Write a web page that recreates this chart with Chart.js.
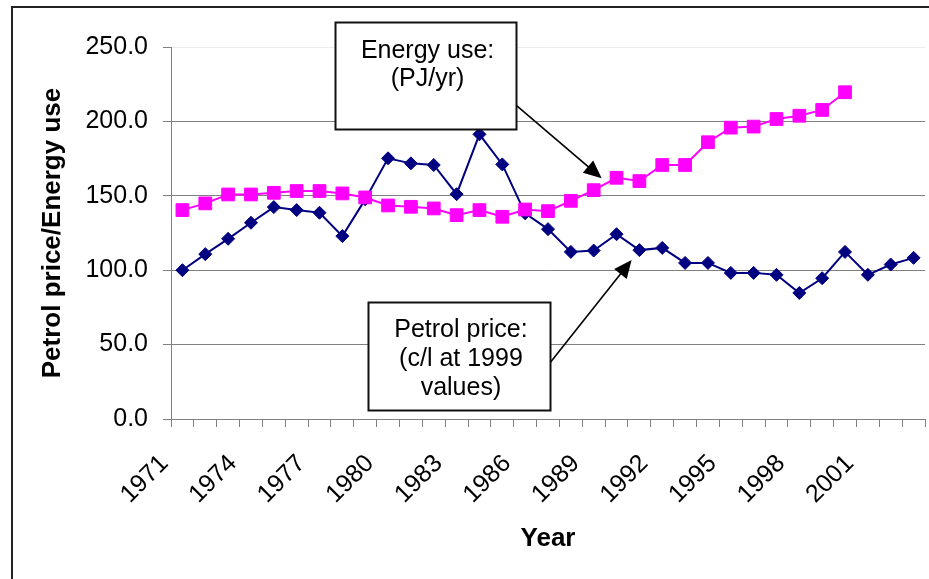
<!DOCTYPE html>
<html>
<head>
<meta charset="utf-8">
<title>Petrol price and energy use</title>
<script src="https://cdn.jsdelivr.net/npm/chart.js@4/dist/chart.umd.min.js"></script>
<style>
    html, body { margin: 0; padding: 0; background: #fff; }
    #wrap { width: 929px; height: 579px; position: relative; }
</style>
</head>
<body>
<div id="wrap"><canvas id="canvas-1"></canvas></div>
<script>
'use strict';

// years on the category axis
var years = [];
for (var y = 1971; y <= 2003; y++) {
    years.push(String(y));
}

// petrol price, c/l at 1999 values (1971-2003)
var petrolPrice = [100.0, 110.8, 121.1, 131.9, 142.4, 140.4, 138.6, 122.9, 147.6, 175.2,
    171.8, 170.7, 151.1, 191.3, 171.1, 138.2, 127.6, 112.3, 113.2, 124.2,
    113.5, 115.0, 104.9, 104.9, 98.2, 98.2, 96.9, 84.7, 94.6, 112.3,
    96.9, 103.8, 108.3];

// energy use, PJ/yr (1971-2000)
var energyUse = [140.4, 144.9, 150.9, 150.9, 152.0, 153.2, 153.2, 151.6, 148.9, 143.5,
    142.6, 141.5, 137.0, 140.4, 135.9, 140.8, 139.7, 146.6, 153.8, 162.1,
    159.9, 170.7, 170.7, 186.0, 195.8, 196.5, 201.6, 203.8, 207.7, 219.6];

// y ticks
var yMin = 0, yMax = 250, yStep = 50;

// callout boxes, in data units (x = category index, y = value)
var callouts = [
    {
        lines: ['Energy use:', '(PJ/yr)'],
        box: [6.66, 266.6, 14.6, 194.7],
        textX: 10.73, textY: [247.3, 228.5],
        arrow: [14.6, 211.0, 18.35, 161.8]
    },
    {
        lines: ['Petrol price:', '(c/l at 1999', 'values)'],
        box: [8.13, 78.8, 16.09, 6.5],
        textX: 12.19, textY: [59.8, 40.3, 20.8],
        arrow: [16.09, 37.8, 19.66, 106.9]
    }
];

var FONT = '"Liberation Sans", Arial, Helvetica, sans-serif';

// draws the two text boxes with arrows and the outer frame
var calloutPlugin = {
    id: 'callouts',
    afterDraw: function (chart) {
        var ctx = chart.ctx;
        var xs = chart.scales.x, ys = chart.scales.y;
        var px = function (i) { return xs.getPixelForValue(i); };
        var py = function (v) { return ys.getPixelForValue(v); };

        ctx.save();
        callouts.forEach(function (c) {
            // arrow line
            var x1 = px(c.arrow[0]), y1 = py(c.arrow[1]);
            var x2 = px(c.arrow[2]), y2 = py(c.arrow[3]);
            var ang = Math.atan2(y2 - y1, x2 - x1);
            var headLen = 18, headW = 8;
            ctx.strokeStyle = '#000';
            ctx.lineWidth = 1.6;
            ctx.beginPath();
            ctx.moveTo(x1, y1);
            ctx.lineTo(x2 - Math.cos(ang) * headLen * 0.8, y2 - Math.sin(ang) * headLen * 0.8);
            ctx.stroke();
            // arrow head
            ctx.fillStyle = '#000';
            ctx.beginPath();
            ctx.moveTo(x2, y2);
            ctx.lineTo(x2 - Math.cos(ang) * headLen - Math.sin(ang) * headW,
                y2 - Math.sin(ang) * headLen + Math.cos(ang) * headW);
            ctx.lineTo(x2 - Math.cos(ang) * headLen + Math.sin(ang) * headW,
                y2 - Math.sin(ang) * headLen - Math.cos(ang) * headW);
            ctx.closePath();
            ctx.fill();

            // box
            var bx = Math.round(px(c.box[0])) + 0.5, by = Math.round(py(c.box[1])) + 0.5;
            var bw = Math.round(px(c.box[2]) - px(c.box[0])), bh = Math.round(py(c.box[3]) - py(c.box[1]));
            ctx.fillStyle = '#fff';
            ctx.fillRect(bx, by, bw, bh);
            ctx.lineWidth = 2;
            ctx.strokeStyle = '#111';
            ctx.strokeRect(bx, by, bw, bh);

            // text
            ctx.fillStyle = '#000';
            ctx.font = '25px ' + FONT;
            ctx.textAlign = 'center';
            ctx.textBaseline = 'middle';
            for (var k = 0; k < c.lines.length; k++) {
                ctx.fillText(c.lines[k], px(c.textX), py(c.textY[k]));
            }
        });

        // outer frame (only top and left edges are inside the picture)
        ctx.strokeStyle = '#222';
        ctx.lineWidth = 2;
        ctx.beginPath();
        ctx.moveTo(12, chart.height);
        ctx.lineTo(12, 7);
        ctx.lineTo(chart.width, 7);
        ctx.stroke();
        ctx.restore();
    }
};

var ctx = document.getElementById('canvas-1');
var chart = new Chart(ctx, {
    type: 'line',
    data: {
        labels: years,
        datasets: [
            {
                label: 'Energy use',
                data: energyUse,
                borderColor: '#FF00FF',
                backgroundColor: '#FF00FF',
                borderWidth: 2,
                pointStyle: 'rect',
                pointRadius: 9,
                pointBorderWidth: 1,
                tension: 0
            },
            {
                label: 'Petrol price',
                data: petrolPrice,
                borderColor: '#000080',
                backgroundColor: '#000080',
                borderWidth: 2,
                pointStyle: 'rectRot',
                pointRadius: 6.5,
                pointBorderWidth: 1,
                tension: 0
            }
        ]
    },
    options: {
        responsive: true,
        maintainAspectRatio: false,
        animation: false,
        layout: {
            autoPadding: false,
            padding: { left: 0, top: 47, right: 4, bottom: 0 }
        },
        plugins: {
            legend: { display: false },
            tooltip: { enabled: false }
        },
        scales: {
            x: {
                type: 'category',
                offset: true,
                grid: {
                    offset: true,
                    drawOnChartArea: false,
                    color: '#808080',
                    tickLength: 8
                },
                border: { color: '#808080', width: 1 },
                ticks: {
                    autoSkip: false,
                    maxRotation: 45,
                    minRotation: 45,
                    padding: 22,
                    labelOffset: -18,
                    color: '#000',
                    font: { family: FONT, size: 25 },
                    callback: function (val, idx) {
                        return idx % 3 === 0 ? this.getLabelForValue(val) : '';
                    }
                },
                title: {
                    display: true,
                    text: 'Year',
                    color: '#000',
                    font: { family: FONT, size: 26, weight: 'bold' },
                    padding: { top: 0, bottom: 25 }
                },
                afterFit: function (scale) {
                    scale.height = 160;
                    scale.paddingLeft = 0;
                    scale.paddingRight = 0;
                }
            },
            y: {
                min: yMin,
                max: yMax,
                grid: {
                    color: function (c) {
                        return c.tick && c.tick.value === yMax ? '#ececec' : '#808080';
                    },
                    tickColor: '#808080',
                    tickLength: 8
                },
                border: { color: '#808080', width: 1 },
                ticks: {
                    stepSize: yStep,
                    padding: 15,
                    color: '#000',
                    font: { family: FONT, size: 25 },
                    callback: function (v) { return v.toFixed(1); }
                },
                title: {
                    display: true,
                    text: 'Petrol price/Energy use',
                    color: '#000',
                    font: { family: FONT, size: 26, weight: 'bold' },
                    padding: { top: 37, bottom: 0 }
                },
                afterFit: function (scale) {
                    scale.width = 171;
                    scale.paddingTop = 0;
                    scale.paddingBottom = 0;
                }
            }
        }
    },
    plugins: [calloutPlugin]
});
</script>
</body>
</html>
